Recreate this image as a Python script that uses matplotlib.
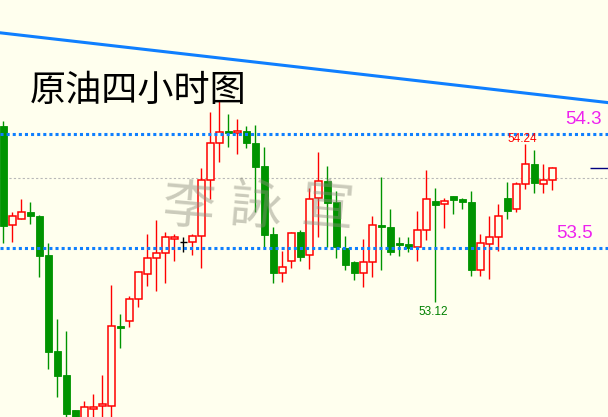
import numpy as np
import matplotlib
matplotlib.use("Agg")
import matplotlib.pyplot as plt

matplotlib.rcParams["font.family"] = ["Noto Sans CJK SC", "DejaVu Sans"]

# ─────────────── 数据：原油四小时K线 ───────────────
opens = [54.356, 53.659, 53.701, 53.751, 53.725, 53.451, 52.777, 52.609, 52.363, 52.270,
         52.372, 52.389, 52.389, 52.953, 52.986, 53.140, 53.315, 53.428, 53.463, 53.561,
         53.544, 53.544, 53.582, 53.975, 54.235, 54.319, 54.305, 54.319, 54.235, 54.075,
         53.598, 53.327, 53.411, 53.610, 53.449, 53.849, 53.970, 53.823, 53.498, 53.402,
         53.327, 53.404, 53.659, 53.647, 53.533, 53.528, 53.505, 53.624, 53.828, 53.807,
         53.863, 53.842, 53.821, 53.348, 53.530, 53.575, 53.851, 53.772, 53.947, 54.089,
         53.947, 53.975]
highs = [54.391, 53.751, 53.844, 53.823, 53.732, 53.533, 53.002, 52.918, 52.363, 52.426,
         52.475, 52.609, 53.240, 53.037, 53.163, 53.340, 53.598, 53.696, 53.610, 53.598,
         53.579, 53.598, 54.061, 54.452, 54.529, 54.440, 54.405, 54.356, 54.363, 54.209,
         53.647, 53.477, 53.610, 53.626, 53.919, 54.174, 54.075, 53.900, 53.584, 53.409,
         53.563, 53.725, 53.996, 53.774, 53.579, 53.579, 53.760, 54.047, 53.919, 53.849,
         53.863, 53.851, 53.900, 53.598, 53.727, 53.807, 53.965, 53.961, 54.230, 54.188,
         54.089, 54.071]
lows = [53.533, 53.544, 53.701, 53.671, 53.299, 52.651, 52.456, 52.316, 52.240, 52.230,
        52.280, 52.280, 52.290, 52.796, 52.948, 53.088, 53.235, 53.200, 53.257, 53.411,
        53.474, 53.451, 53.362, 53.846, 54.106, 54.211, 54.162, 54.204, 53.755, 53.509,
        53.257, 53.264, 53.362, 53.411, 53.355, 53.579, 53.509, 53.432, 53.346, 53.275,
        53.228, 53.299, 53.346, 53.451, 53.444, 53.470, 53.409, 53.556, 53.120, 53.642,
        53.741, 53.776, 53.306, 53.306, 53.285, 53.481, 53.706, 53.755, 53.916, 53.888,
        53.888, 53.909]
closes = [53.657, 53.722, 53.751, 53.727, 53.446, 52.772, 52.604, 52.335, 52.270, 52.382,
          52.382, 52.405, 52.953, 52.941, 53.140, 53.329, 53.428, 53.463, 53.575, 53.575,
          53.544, 53.582, 53.975, 54.235, 54.316, 54.305, 54.319, 54.235, 54.071, 53.593,
          53.327, 53.365, 53.603, 53.435, 53.842, 53.968, 53.818, 53.509, 53.383, 53.327,
          53.400, 53.659, 53.649, 53.474, 53.521, 53.502, 53.624, 53.842, 53.804, 53.828,
          53.839, 53.821, 53.348, 53.533, 53.575, 53.722, 53.758, 53.947, 54.089, 53.958,
          53.977, 54.059]

resist, support = 54.3, 53.5
mid_level = 53.99
trend_x = [-0.37, 67.2]
trend_y = [55.01, 54.52]
hi_label, lo_label = "54.24", "53.12"
hi_idx, lo_idx = 58, 48

BG = "#ffffee"
RED = "#ff0000"
GREEN = "#009400"
BLUE = "#0f7fff"
PINK = "#ee22ee"

fig = plt.figure(figsize=(6.08, 4.17), dpi=100, facecolor=BG)
ax = fig.add_axes([0, 0, 1, 1], facecolor=BG)

x = np.arange(len(opens))
o, h, l, c = map(np.array, (opens, highs, lows, closes))
up = c > o
down = c < o
doji = c == o

# 参考线
ax.axhline(mid_level, color="#b8b8b8", lw=0.8, ls=(0, (2, 2)), zorder=1)
ax.axhline(resist, color=BLUE, lw=2.2, ls=(0, (1, 1)), zorder=4)
ax.axhline(support, color=BLUE, lw=2.2, ls=(0, (1, 1)), zorder=4)
ax.plot(trend_x, trend_y, color=BLUE, lw=2.2, zorder=4)

# 影线
ax.vlines(x[up], l[up], h[up], color=RED, lw=1, zorder=2)
ax.vlines(x[down], l[down], h[down], color=GREEN, lw=1, zorder=2)
ax.vlines(x[doji], l[doji], h[doji], color="black", lw=1, zorder=2)
ax.hlines(c[doji], x[doji] - 0.37, x[doji] + 0.37, color="black", lw=1, zorder=2)

# 实体
w = 0.74
ax.bar(x[up], np.maximum(c[up] - o[up], 0.006), bottom=o[up], width=w,
       facecolor=BG, edgecolor=RED, linewidth=1.1, zorder=3)
ax.bar(x[down], np.maximum(o[down] - c[down], 0.006), bottom=c[down], width=w,
       color=GREEN, edgecolor=GREEN, linewidth=0.6, zorder=3)

# 当前价
ax.hlines(c[-1], 65.2, 67.2, color="#000080", lw=1, zorder=4)

# 文字
ax.text(30 / 608, 1 - 101 / 417, "原油四小时图", transform=ax.transAxes,
        fontsize=26, color="black", ha="left", va="baseline", zorder=6)
ax.text(66.5, resist + 0.04, "54.3", color=PINK, fontsize=13.5,
        family="Liberation Sans", ha="right", va="bottom", zorder=6)
ax.text(65.5, support + 0.04, "53.5", color=PINK, fontsize=13.5,
        family="Liberation Sans", ha="right", va="bottom", zorder=6)
ax.annotate(hi_label, (hi_idx - 0.35, h[hi_idx]), xytext=(0, -1), textcoords="offset points",
            color=RED, fontsize=8.5, family="Liberation Sans", ha="center", va="bottom", zorder=6)
ax.annotate(lo_label, (lo_idx - 0.25, l[lo_idx]), xytext=(0, -3), textcoords="offset points",
            color="#008000", fontsize=8.5, family="Liberation Sans", ha="center", va="top", zorder=6)

# 水印
for xi, ch in zip([20.5, 28.0, 36.0], "李詠宣"):
    ax.text(xi, 53.78, ch, color="#8c8c7c", alpha=0.45, fontsize=38,
            ha="center", va="center", rotation=-5, zorder=5)

ax.set_xlim(-0.367, 67.19)
ax.set_ylim(52.314, 55.24)
ax.set_axis_off()

fig.savefig("out.png", dpi=100, facecolor=BG)
